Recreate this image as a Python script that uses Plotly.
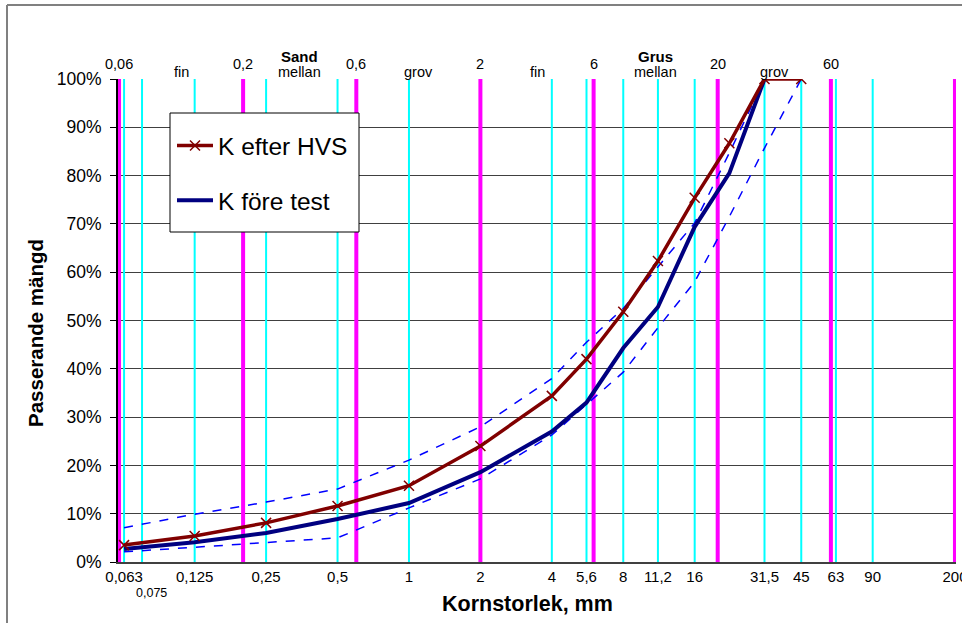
import math
import plotly.graph_objects as go

# ---------------- data ----------------
sizes = [0.063, 0.125, 0.25, 0.5, 1, 2, 4, 5.6, 8, 11.2, 16, 22.4, 31.5, 45]
efter_hvs = [3.5, 5.4, 8.1, 11.6, 15.8, 24.0, 34.4, 42.0, 51.8, 62.3, 75.4, 86.7, 100, 100]
fore_sizes = [0.063, 0.125, 0.25, 0.5, 1, 2, 4, 5.6, 8, 11.2, 16, 22.4, 31.5]
fore_test = [2.7, 4.1, 6.0, 8.9, 12.2, 18.6, 27.0, 33.0, 44.3, 52.8, 69.4, 80.5, 100]
upper_sizes = [0.063, 0.125, 0.25, 0.5, 1, 2, 4, 5.6, 8, 11.2, 16, 22.4, 31.5]
upper_env = [7.1, 9.9, 12.4, 15.1, 21.1, 28.0, 38.0, 45.5, 52.5, 61.0, 70.2, 84.7, 100]
lower_sizes = [0.063, 0.125, 0.25, 0.5, 1, 2, 4, 5.6, 8, 11.2, 16, 22.4, 31.5, 45]
lower_env = [2.1, 3.1, 4.1, 5.0, 11.2, 17.2, 26.3, 32.7, 39.3, 48.5, 58.0, 71.5, 85.7, 100]

magenta_lines = [0.06, 0.2, 0.6, 2, 6, 20, 60, 200]
cyan_lines = [0.063, 0.075, 0.125, 0.25, 0.5, 1, 4, 5.6, 8, 11.2, 16, 31.5, 45, 63, 90]

x_tickvals = [0.063, 0.125, 0.25, 0.5, 1, 2, 4, 5.6, 8, 11.2, 16, 31.5, 45, 63, 90, 200]
x_ticktext = ["0,063", "0,125", "0,25", "0,5", "1", "2", "4", "5,6", "8", "11,2", "16",
              "31,5", "45", "63", "90", "200"]
y_tickvals = [0, 10, 20, 30, 40, 50, 60, 70, 80, 90, 100]
y_ticktext = ["0%", "10%", "20%", "30%", "40%", "50%", "60%", "70%", "80%", "90%", "100%"]

top_bounds = [0.06, 0.2, 0.6, 2, 6, 20, 60]
top_bound_text = ["0,06", "0,2", "0,6", "2", "6", "20", "60"]
fraction_text = ["fin", "mellan", "grov", "fin", "mellan", "grov"]
group_text = ["Sand", "Grus"]

FONT = "Liberation Sans, Arial, sans-serif"

L, R, T, B = 118, 6, 79, 61
W, H = 962, 623
pw, ph = W - L - R, H - T - B


def px_x(p):
    return (p - L) / pw


def px_y(p):
    return (H - B - p) / ph


fig = go.Figure()


def vlines(vals):
    xs, ys = [], []
    for v in vals:
        xs += [v, v, None]
        ys += [0, 100, None]
    return xs, ys


mx, my = vlines(magenta_lines)
cx, cy = vlines(cyan_lines)
fig.add_trace(go.Scatter(x=cx, y=cy, mode="lines", line=dict(color="#00FFFF", width=2),
                         showlegend=False, hoverinfo="skip"))
fig.add_trace(go.Scatter(x=mx, y=my, mode="lines", line=dict(color="#FF00FF", width=4),
                         showlegend=False, hoverinfo="skip"))

fig.add_trace(go.Scatter(x=upper_sizes, y=upper_env, mode="lines",
                         line=dict(color="#0000FF", width=1.5, dash="dash"),
                         showlegend=False))
fig.add_trace(go.Scatter(x=lower_sizes, y=lower_env, mode="lines",
                         line=dict(color="#0000FF", width=1.5, dash="dash"),
                         showlegend=False))
fig.add_trace(go.Scatter(x=fore_sizes, y=fore_test, mode="lines", name="K före test",
                         line=dict(color="#000080", width=4),
                         legendgroup="b", legendrank=2))
fig.add_trace(go.Scatter(x=sizes, y=efter_hvs, mode="lines+markers", name="K efter HVS",
                         line=dict(color="#800000", width=3.5),
                         marker=dict(symbol="x-thin", size=10,
                                     line=dict(color="#800000", width=1.5)),
                         legendgroup="a", legendrank=1))

annotations = []
for v, t in zip(top_bounds, top_bound_text):
    annotations.append(dict(x=math.log10(v), y=px_y(64), xref="x", yref="paper", text=t,
                            showarrow=False, font=dict(size=14.5, family=FONT, color="black"),
                            xanchor="center", yanchor="middle"))
for i, t in enumerate(fraction_text):
    gm = math.sqrt(top_bounds[i] * top_bounds[i + 1])
    annotations.append(dict(x=math.log10(gm), y=px_y(72), xref="x", yref="paper", text=t,
                            showarrow=False, font=dict(size=14.5, family=FONT, color="black"),
                            xanchor="center", yanchor="middle"))
for i, t in enumerate(group_text):
    gm = math.sqrt(top_bounds[3 * i + 1] * top_bounds[3 * i + 2])
    annotations.append(dict(x=math.log10(gm), y=px_y(57), xref="x", yref="paper",
                            text="<b>" + t + "</b>", showarrow=False,
                            font=dict(size=15, family=FONT, color="black"),
                            xanchor="center", yanchor="middle"))
annotations.append(dict(x=math.log10(0.075), y=px_y(593), xref="x", yref="paper", text="0,075",
                        showarrow=False, xshift=9,
                        font=dict(size=12.5, family=FONT, color="black"),
                        xanchor="center", yanchor="middle"))
annotations.append(dict(x=px_x(527), y=px_y(604), xref="paper", yref="paper",
                        text="<b>Kornstorlek, mm</b>", showarrow=False,
                        font=dict(size=21.5, family=FONT, color="black"),
                        xanchor="center", yanchor="middle"))
annotations.append(dict(x=px_x(35), y=px_y(333), xref="paper", yref="paper",
                        text="<b>Passerande mängd</b>", showarrow=False, textangle=-90,
                        font=dict(size=20.5, family=FONT, color="black"),
                        xanchor="center", yanchor="middle"))

shapes = [
    dict(type="line", xref="paper", yref="paper",
         x0=px_x(7), x1=px_x(W + 5), y0=px_y(5), y1=px_y(5),
         line=dict(color="#808080", width=2)),
    dict(type="line", xref="paper", yref="paper",
         x0=px_x(7), x1=px_x(7), y0=px_y(5), y1=px_y(H + 5),
         line=dict(color="#808080", width=2)),
    dict(type="rect", xref="paper", yref="paper", layer="above",
         x0=px_x(170), x1=px_x(359), y0=px_y(232), y1=px_y(113),
         fillcolor="white", line=dict(color="black", width=1)),
]

fig.update_layout(
    width=W, height=H,
    margin=dict(l=L, r=R, t=T, b=B),
    paper_bgcolor="white", plot_bgcolor="white",
    font=dict(family=FONT, color="black"),
    annotations=annotations,
    shapes=shapes,
    legend=dict(x=px_x(172), y=px_y(123), xanchor="left", yanchor="top",
                bgcolor="rgba(0,0,0,0)", borderwidth=0,
                font=dict(size=24.5, family=FONT, color="black"),
                traceorder="grouped", tracegroupgap=20, itemwidth=36),
    xaxis=dict(type="log", range=[math.log10(0.0594), math.log10(202)],
               tickvals=x_tickvals, ticktext=x_ticktext, ticks="",
               tickfont=dict(size=15, family=FONT, color="black"),
               ticklabeloverflow="allow", automargin=False,
               showgrid=False, showline=True, linecolor="#404040", linewidth=2,
               zeroline=False),
    yaxis=dict(range=[0, 100], tickvals=y_tickvals, ticktext=y_ticktext,
               tickfont=dict(size=17.5, family=FONT, color="black"),
               ticks="outside", ticklen=6, tickcolor="black", automargin=False,
               ticklabelstandoff=5,
               showgrid=True, gridcolor="#404040", gridwidth=1,
               showline=True, linecolor="black", linewidth=2, zeroline=False),
)

fig.write_html("out.html", config={"displayModeBar": False},
               post_script="document.body.style.margin='0px';")
